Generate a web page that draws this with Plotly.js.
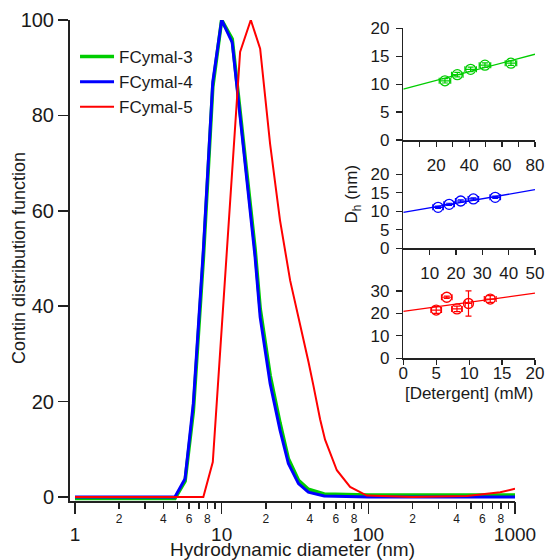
<!DOCTYPE html>
<html>
<head>
<meta charset="utf-8">
<script src="https://cdn.plot.ly/plotly-3.0.1.min.js"></script>
<style>html,body{margin:0;padding:0;background:#fff;} #chart{width:545px;height:560px;}</style>
</head>
<body>
<div id="chart"></div>
<script>
// ---- Main plot: CONTIN distributions ----
const seriesNames = ['FCymal-3', 'FCymal-4', 'FCymal-5'];

const diamFC3 = [1, 4.8, 5.63, 6.41, 7.5, 8.7, 10, 11.8, 16.9, 18.3, 21.4, 25, 28.5, 33.4, 39, 50, 100, 300, 1000];
const distFC3 = [-0.3, -0.3, 3.3, 18, 50, 86, 100, 96, 52, 39.5, 25.5, 15.5, 8, 3.5, 1.6, 0.6, 0.4, 0.4, 0.4];

const diamFC4 = [1, 4.8, 5.63, 6.41, 7.5, 8.7, 10, 11.8, 16.9, 18.3, 21.4, 25, 28.5, 33.4, 39, 50, 100, 300, 1000];
const distFC4 = [0, 0, 3.8, 19.6, 51.7, 87, 100, 95.3, 50.3, 37.7, 23.8, 14, 7, 2.8, 1, 0.2, 0, 0, 0];

const diamFC5 = [1, 7.5, 8.7, 13.36, 15.8, 18.3, 21.4, 25, 29.3, 32.6, 36.1, 39.1, 42.2, 46.9, 50.7, 61, 75.1, 97.7, 200, 470, 793, 1000];
const distFC5 = [0, 0, 7.3, 93.3, 100, 94, 74, 58, 45.4, 39.1, 33.5, 28.3, 23.4, 16.3, 12, 5.6, 2.1, 0.3, 0, 0.2, 1.0, 1.7];

const minorTickVals = [2,3,4,5,6,7,8,9,20,30,40,50,60,70,80,90,200,300,400,500,600,700,800,900];
const minorTickText = ['2','','4','','6','','8','','2','','4','','6','','8','','2','','4','','6','','8',''];
const majorTickVals = [1, 10, 100, 1000];
const majorTickText = ['1', '10', '100', '1000'];
const yTickVals = [0, 20, 40, 60, 80, 100];
const mainYTitle = 'Contin distribution function';

// ---- Insets: Dh vs detergent concentration ----
const detFC3 = [25.3, 32.8, 40.9, 49.6, 65.4];
const dhFC3 = [10.6, 11.7, 12.65, 13.4, 13.75];
const detErrFC3 = [3.5, 3.5, 3.5, 3.5, 3.5];
const dhErrFC3 = [0.4, 0.4, 0.4, 0.4, 0.4];
const fitXFC3 = [0, 80];
const fitYFC3 = [9.1, 15.35];

const detFC4 = [13.2, 17.4, 21.8, 26.6, 34.9];
const dhFC4 = [11.05, 11.85, 12.75, 13.3, 13.75];
const detErrFC4 = [2, 2, 2, 2, 2];
const dhErrFC4 = [0.3, 0.3, 0.3, 0.3, 0.3];
const fitXFC4 = [0, 50];
const fitYFC4 = [9.7, 15.8];

const detFC5 = [5.0, 6.6, 8.15, 9.9, 13.2];
const dhFC5 = [21.5, 27.2, 22.0, 24.4, 26.4];
const detErrFC5 = [0.8, 0.8, 0.8, 0.5, 0.9];
const dhErrFC5 = [1.5, 0.5, 1.2, 5.6, 1.5];
const fitXFC5 = [0, 20];
const fitYFC5 = [20.9, 29.0];

const colGreen = 'rgb(0,205,0)';
const colBlue = 'rgb(0,0,255)';
const colRed = 'rgb(255,0,0)';
const axisCol = '#222';

function mainLine(x, y, name, color, width) {
  return {x: x, y: y, name: name, type: 'scatter', mode: 'lines',
          line: {color: color, width: width}, xaxis: 'x', yaxis: 'y'};
}
function insetPoints(x, y, ex, ey, color, xa, ya) {
  return {x: x, y: y, type: 'scatter', mode: 'markers', showlegend: false,
          xaxis: xa, yaxis: ya,
          marker: {symbol: 'circle-open', size: 10, color: color, line: {width: 1.3, color: color}},
          error_x: {type: 'data', array: ex, visible: true, color: color, thickness: 1.2, width: 3},
          error_y: {type: 'data', array: ey, visible: true, color: color, thickness: 1.2, width: 3}};
}
function insetFit(x, y, color, xa, ya) {
  return {x: x, y: y, type: 'scatter', mode: 'lines', showlegend: false,
          xaxis: xa, yaxis: ya, line: {color: color, width: 1.3}};
}

const data = [
  // empty carrier so the major-decade tick axis (x2) is built
  {x: [], y: [], type: 'scatter', mode: 'lines', xaxis: 'x2', yaxis: 'y', showlegend: false, hoverinfo: 'skip'},
  mainLine(diamFC3, distFC3, seriesNames[0], colGreen, 3.6),
  mainLine(diamFC4, distFC4, seriesNames[1], colBlue, 3),
  mainLine(diamFC5, distFC5, seriesNames[2], colRed, 2),
  insetFit(fitXFC3, fitYFC3, colGreen, 'x3', 'y3'),
  insetPoints(detFC3, dhFC3, detErrFC3, dhErrFC3, colGreen, 'x3', 'y3'),
  insetFit(fitXFC4, fitYFC4, colBlue, 'x4', 'y4'),
  insetPoints(detFC4, dhFC4, detErrFC4, dhErrFC4, colBlue, 'x4', 'y4'),
  insetFit(fitXFC5, fitYFC5, colRed, 'x5', 'y5'),
  insetPoints(detFC5, dhFC5, detErrFC5, dhErrFC5, colRed, 'x5', 'y5')
];

const W = 465, H = 481; // plot area
const insetL = (403.3 - 70) / W;
function yFrac(px) { return (501 - px) / H; }

const baseAxis = {showgrid: false, zeroline: false, showline: true, linecolor: axisCol,
                  ticks: 'outside', tickcolor: axisCol, tickmode: 'array', fixedrange: true};

const layout = {
  width: 545, height: 560,
  margin: {l: 70, r: 10, t: 20, b: 59, pad: 0},
  paper_bgcolor: '#fff', plot_bgcolor: 'rgba(0,0,0,0)',
  font: {family: 'Liberation Sans, Arial, sans-serif', size: 17, color: '#1a1a1a'},
  showlegend: true,
  legend: {x: 0.0108, y: 0.9605, xanchor: 'left', yanchor: 'top', bgcolor: 'rgba(0,0,0,0)',
           font: {size: 17}, itemwidth: 34},
  xaxis: Object.assign({}, baseAxis, {
    type: 'log', domain: [0, 445 / W], range: [-0.034, 3], anchor: 'y',
    tickvals: minorTickVals, ticktext: minorTickText, ticklen: 6, tickwidth: 1.5,
    linewidth: 2, tickfont: {size: 12}
  }),
  xaxis2: Object.assign({}, baseAxis, {
    type: 'log', overlaying: 'x', anchor: 'y', side: 'bottom', range: [-0.034, 3],
    tickvals: majorTickVals, ticktext: majorTickText, ticklen: 12, tickwidth: 1.5,
    showline: false, tickfont: {size: 19}, ticklabelstandoff: 4,
    title: {text: 'Hydrodynamic diameter (nm)', font: {size: 19}, standoff: 4}
  }),
  yaxis: Object.assign({}, baseAxis, {
    domain: [0, 1], range: [-0.85, 100], anchor: 'x',
    tickvals: yTickVals, ticklen: 10, tickwidth: 1.5, linewidth: 2, tickfont: {size: 20}
  }),
  annotations: [{
    text: mainYTitle, textangle: -90, xref: 'paper', yref: 'paper',
    x: (19 - 70) / W, y: (501 - 258) / H, xanchor: 'center', yanchor: 'middle',
    showarrow: false, font: {size: 18}
  }],
  xaxis3: Object.assign({}, baseAxis, {
    domain: [insetL, 1], range: [0, 80], anchor: 'y3',
    tickvals: [10, 20, 30, 40, 50, 60, 70, 80], ticktext: ['', '20', '', '40', '', '60', '', '80'],
    ticklen: 5, tickwidth: 1.2, linewidth: 1.5, tickfont: {size: 17}, ticklabelstandoff: 4
  }),
  yaxis3: Object.assign({}, baseAxis, {
    domain: [yFrac(140), yFrac(28)], range: [0, 20.05], anchor: 'x3',
    tickvals: [0, 5, 10, 15, 20], ticklen: 6, tickwidth: 1.2, linewidth: 1.5,
    tickfont: {size: 17}, ticklabelstandoff: 3
  }),
  xaxis4: Object.assign({}, baseAxis, {
    domain: [insetL, 1], range: [0, 50], anchor: 'y4',
    tickvals: [10, 20, 30, 40, 50], ticklen: 5, tickwidth: 1.2, linewidth: 1.5,
    tickfont: {size: 17}, ticklabelstandoff: 4
  }),
  yaxis4: Object.assign({}, baseAxis, {
    domain: [yFrac(248.3), yFrac(140)], range: [0, 29.2], anchor: 'x4',
    tickvals: [0, 5, 10, 15, 20], ticklen: 6, tickwidth: 1.2, linewidth: 1.5,
    tickfont: {size: 17}, ticklabelstandoff: 3,
    title: {text: 'D<sub>h</sub> (nm)', font: {size: 17}, standoff: 8}
  }),
  xaxis5: Object.assign({}, baseAxis, {
    domain: [insetL, 1], range: [0, 20], anchor: 'y5',
    tickvals: [0, 5, 10, 15, 20], ticklen: 5, tickwidth: 1.2, linewidth: 1.5,
    tickfont: {size: 17}, ticklabelstandoff: -6,
    title: {text: '[Detergent] (mM)', font: {size: 17}, standoff: 5}
  }),
  yaxis5: Object.assign({}, baseAxis, {
    domain: [yFrac(358.3), yFrac(248.3)], range: [0, 49], anchor: 'x5',
    tickvals: [0, 10, 20, 30], ticklen: 6, tickwidth: 1.2, linewidth: 1.5,
    tickfont: {size: 17}, ticklabelstandoff: 3
  })
};

Plotly.newPlot('chart', data, layout, {staticPlot: true, displayModeBar: false});
</script>
</body>
</html>
